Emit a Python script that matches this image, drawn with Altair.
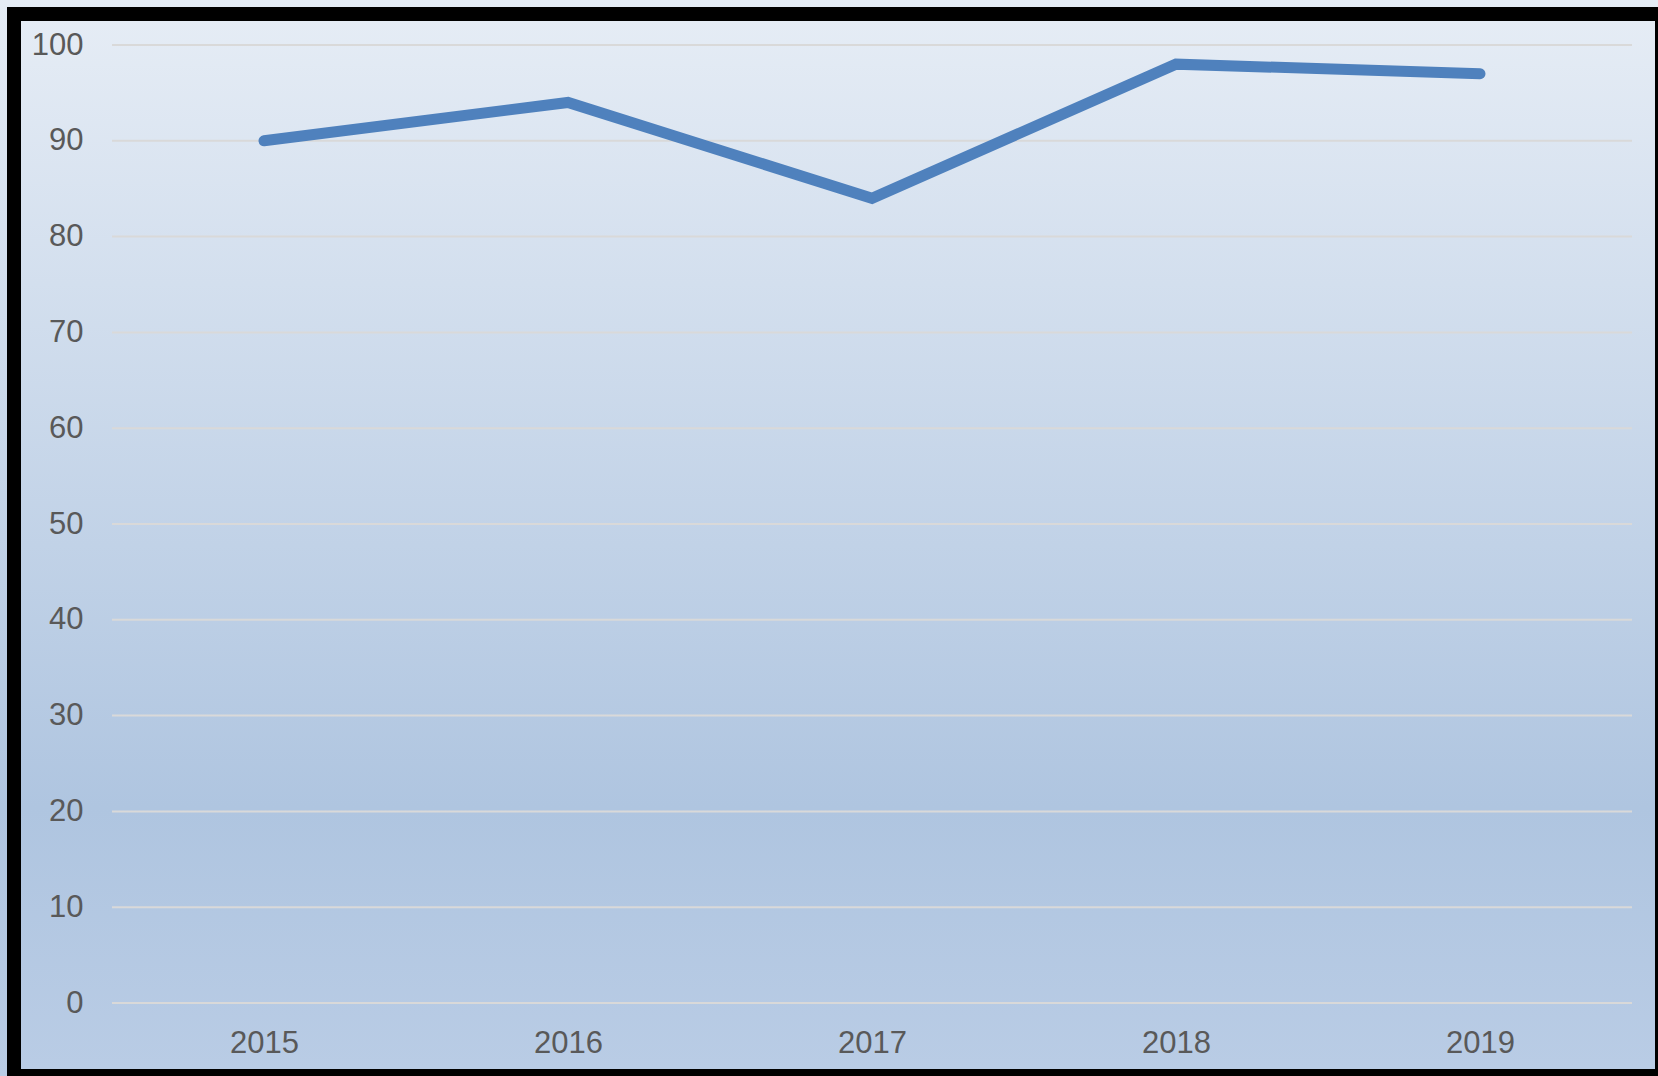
import altair as alt
import pandas as pd

years = ["2015", "2016", "2017", "2018", "2019"]
values = [90, 94, 84, 98, 97]
y_ticks = [0, 10, 20, 30, 40, 50, 60, 70, 80, 90, 100]

df = pd.DataFrame({"year": years, "value": values})
grid_df = pd.DataFrame({"value": y_ticks})

W, H = 1520, 958
PAD = {"left": 112, "top": 45, "right": 26, "bottom": 73}

grad = alt.Gradient(
    gradient="linear",
    stops=[
        alt.GradientStop(color="#e5ecf5", offset=0),
        alt.GradientStop(color="#afc5e0", offset=0.75),
        alt.GradientStop(color="#b9cce5", offset=1),
    ],
    x1=0, x2=0, y1=0, y2=1,
)

one = alt.Data(values=[{"a": 1}])

outer_bg = alt.Chart(one).mark_rect(color=grad).encode(
    x=alt.value(-112), x2=alt.value(1546), y=alt.value(-45), y2=alt.value(1031)
)
black = alt.Chart(one).mark_rect(color="#000000").encode(
    x=alt.value(-105), x2=alt.value(1546), y=alt.value(-38), y2=alt.value(1031)
)
inner_bg = alt.Chart(one).mark_rect(color=grad).encode(
    x=alt.value(-91), x2=alt.value(1543), y=alt.value(-24), y2=alt.value(1024)
)

y_scale = alt.Scale(domain=[0, 100], nice=False, zero=True)

grid = alt.Chart(grid_df).mark_rule(color="#d9d9d9", strokeWidth=2).encode(
    x=alt.value(0), x2=alt.value(W),
    y=alt.Y("value:Q", scale=y_scale, title=None),
)

line = alt.Chart(df).mark_line(
    color="#4f81bd", strokeWidth=11, strokeCap="round", strokeJoin="miter"
).encode(
    x=alt.X("year:N", sort=years, title=None,
            scale=alt.Scale(type="point", padding=0.5),
            axis=alt.Axis(labelAngle=0, domain=False, ticks=False, grid=False,
                          labelPadding=25, labelFontSize=31, labelColor="#595959",
                          labelFont="Liberation Sans", zindex=1)),
    y=alt.Y("value:Q", title=None, scale=y_scale,
            axis=alt.Axis(values=y_ticks, domain=False, ticks=False, grid=False,
                          labelPadding=29, labelFontSize=31, labelColor="#595959",
                          labelFont="Liberation Sans", zindex=1)),
)

chart = alt.layer(outer_bg, black, inner_bg, grid, line).properties(
    width=W, height=H,
    padding=PAD,
    autosize=alt.AutoSizeParams(type="none"),
    background="#dfe7f1",
).configure_view(stroke=None)

chart.save("out.html", embed_options={"renderer": "svg", "actions": False})
